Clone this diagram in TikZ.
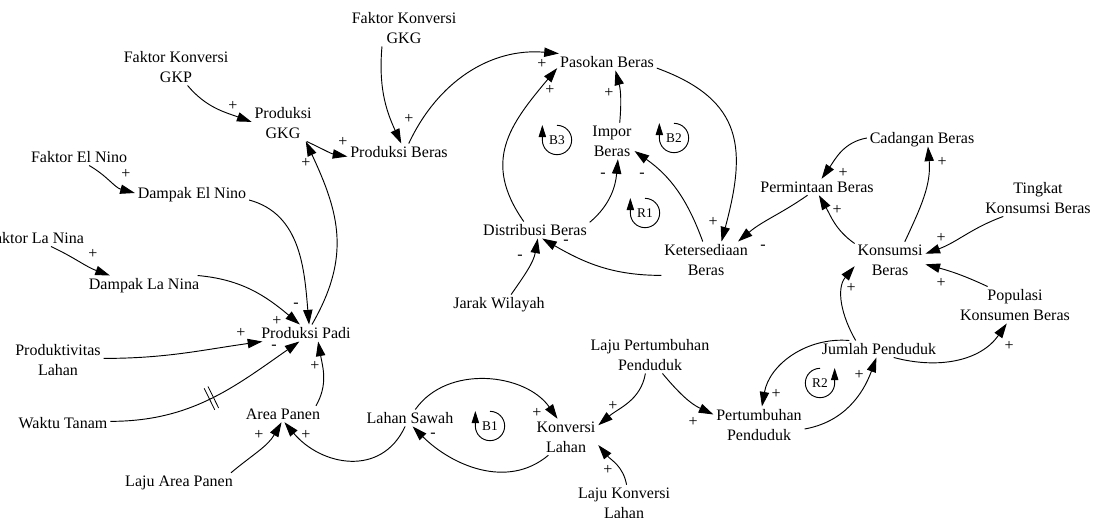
\documentclass[tikz,border=0pt]{standalone}
\usepackage{fontspec}
\setmainfont{Liberation Serif}
\usetikzlibrary{arrows.meta,decorations.markings}

\begin{document}
\begin{tikzpicture}[x=0.75pt,y=-0.75pt,
    var/.style={align=center,inner sep=2pt,text depth=0pt,font=\fontsize{12}{15}\selectfont},
    pol/.style={inner sep=0pt,font=\fontsize{12}{15}\selectfont},
    link/.style={line width=0.7pt,-{Triangle[length=11pt,width=7pt]}},
    loopsym/.style={line width=0.7pt,-{Triangle[length=9pt,width=5.5pt]}},
    looplbl/.style={inner sep=0pt,font=\fontsize{10}{12}\selectfont},
    delay/.style={postaction={decorate,decoration={markings,
        mark=at position #1 with {\draw[-,line width=0.6pt] (-1.6pt,-9pt) -- (-1.6pt,9pt) (1.6pt,-9pt) -- (1.6pt,9pt);}}}}]

    \useasboundingbox (0,0) rectangle (1094,517);
    \clip (0,0) rectangle (1094,517);

        \node[var] (fkgkg) at (404,28) {Faktor Konversi\\GKG};
        \node[var] (fkgkp) at (176,67) {Faktor Konversi\\GKP};
        \node[var] (pgkg) at (283,123) {Produksi\\GKG};
        \node[var] (pberas) at (399,152) {Produksi Beras};
        \node[var] (pasokan) at (607,62) {Pasokan Beras};
        \node[var] (impor) at (612,141) {Impor\\Beras};
        \node[var] (distribusi) at (535,230) {Distribusi Beras};
        \node[var] (ketersediaan) at (706,260) {Ketersediaan\\Beras};
        \node[var] (jarak) at (499,303) {Jarak Wilayah};
        \node[var] (cadangan) at (922,138) {Cadangan Beras};
        \node[var] (permintaan) at (817,187) {Permintaan Beras};
        \node[var] (tingkat) at (1038,198) {Tingkat\\Konsumsi Beras};
        \node[var] (konsumsi) at (890,260) {Konsumsi\\Beras};
        \node[var] (populasi) at (1015,305) {Populasi\\Konsumen Beras};
        \node[var] (jumlah) at (879,349) {Jumlah Penduduk};
        \node[var] (pertumbuhan) at (759,425) {Pertumbuhan\\Penduduk};
        \node[var] (lajupert) at (650,355) {Laju Pertumbuhan\\Penduduk};
        \node[var] (konversi) at (566,437) {Konversi\\Lahan};
        \node[var] (lajukonv) at (624,503) {Laju Konversi\\Lahan};
        \node[var] (sawah) at (410,418) {Lahan Sawah};
        \node[var] (area) at (283,414) {Area Panen};
        \node[var] (lajuarea) at (179,481) {Laju Area Panen};
        \node[var] (waktu) at (63,423) {Waktu Tanam};
        \node[var] (produktivitas) at (58,360) {Produktivitas\\Lahan};
        \node[var] (ppadi) at (306,333) {Produksi Padi};
        \node[var] (dlanina) at (144,284) {Dampak La Nina};
        \node[var] (flanina) at (35,238) {Faktor La Nina};
        \node[var] (felnino) at (79,157) {Faktor El Nino};
        \node[var] (delnino) at (192,193) {Dampak El Nino};

        \draw[link] (fkgkp.-58) to[out=-50,in=160] (pgkg.178);
        \draw[link] (pgkg.-38) to[out=-25,in=170] (pberas.185);
        \draw[link] (ppadi.55) to[out=60,in=-65,looseness=1.1] (pgkg.-39);
        \draw[link] (fkgkg.-140) to[out=-95,in=115] (pberas.75);
        \draw[link] (pberas.41) to[out=65,in=175] (pasokan.170);
        \draw[link] (distribusi.143) to[out=125,in=-130,looseness=1.2] (pasokan.-173);
        \draw[link] (impor.67) to[out=85,in=-75] (pasokan.-45);
        \draw[link] (distribusi.8) to[out=40,in=-95] (impor.-72);
        \draw[link] (ketersediaan.100) to[out=110,in=-35] (impor.-24);
        \draw[link] (pasokan.-7) to[out=-20,in=75,looseness=1.3] (ketersediaan.50);
        \draw[link] (ketersediaan.199) to[out=180,in=-30] (distribusi.-50);
        \draw[link] (jarak.35) to[out=55,in=-100] (distribusi.-72);
        \draw[link] (permintaan.221) to[out=215,in=40] (ketersediaan.30);
        \draw[link] (cadangan.180) to[out=190,in=55] (permintaan.61);
        \draw[link] (konsumsi.155) to[out=145,in=-60] (permintaan.-77);
        \draw[link] (konsumsi.51) to[out=65,in=-85] (cadangan.-55);
        \draw[link] (tingkat.208) to[out=200,in=20] (konsumsi.10);
        \draw[link] (populasi.146) to[out=155,in=-15] (konsumsi.-7);
        \draw[link] (jumlah.160) to[out=120,in=-130] (konsumsi.190);
        \draw[link] (jumlah.-30) to[out=-15,in=-125] (populasi.-114);
        \draw[link] (jumlah.164) to[out=175,in=80] (pertumbuhan.81);
        \draw[link] (pertumbuhan.-5) to[out=10,in=-110] (jumlah.-107);
        \draw[link] (lajupert.-56) to[out=-50,in=155] (pertumbuhan.167);
        \draw[link] (lajupert.-104) to[out=-100,in=40] (konversi.20);
        \draw[link] (lajukonv.82) to[out=100,in=-50] (konversi.-14);
        \draw[link] (sawah.58) to[out=55,in=125] (konversi.115);
        \draw[link] (konversi.-134) to[out=-140,in=-45] (sawah.-73);
        \draw[link] (sawah.-120) to[out=-115,in=-50,looseness=1.2] (area.-80);
        \draw[link] (lajuarea.9) to[out=40,in=-120] (area.-100);
        \draw[link] (area.14) to[out=60,in=-80] (ppadi.-35);
        \draw[link,delay=0.5] (waktu.2) to[out=0,in=-145] (ppadi.-128);
        \draw[link] (produktivitas.2) to[out=0,in=188] (ppadi.-169);
        \draw[link] (dlanina.9) to[out=-5,in=140] (ppadi.126);
        \draw[link] (delnino.-7) to[out=-15,in=95] (ppadi.70);
        \draw[link] (felnino.-40) to[out=-30,in=165] (delnino.180);
        \draw[link] (flanina.-28) to[out=-25,in=160] (dlanina.166);

        \node[pol] (p1) at (233,106) {+};
        \node[pol] (p2) at (343,142) {+};
        \node[pol] (p3) at (306,163) {+};
        \node[pol] (p4) at (409,119) {+};
        \node[pol] (p5) at (542,64) {+};
        \node[pol] (p6) at (550,90) {+};
        \node[pol] (p7) at (609,93) {+};
        \node[pol] (p8) at (603,175) {-};
        \node[pol] (p9) at (642,175) {-};
        \node[pol] (p10) at (713,222) {+};
        \node[pol] (p11) at (566,242) {-};
        \node[pol] (p12) at (520,257) {-};
        \node[pol] (p13) at (763,247) {-};
        \node[pol] (p14) at (843,173) {+};
        \node[pol] (p15) at (837,210) {+};
        \node[pol] (p16) at (942,162) {+};
        \node[pol] (p17) at (941,238) {+};
        \node[pol] (p18) at (941,283) {+};
        \node[pol] (p19) at (851,288) {+};
        \node[pol] (p20) at (1009,346) {+};
        \node[pol] (p21) at (776,394) {+};
        \node[pol] (p22) at (859,375) {+};
        \node[pol] (p23) at (693,422) {+};
        \node[pol] (p24) at (613,406) {+};
        \node[pol] (p25) at (608,470) {+};
        \node[pol] (p26) at (537,413) {+};
        \node[pol] (p27) at (433,435) {-};
        \node[pol] (p28) at (306,435) {+};
        \node[pol] (p29) at (259,435) {+};
        \node[pol] (p30) at (315,366) {+};
        \node[pol] (p31) at (274,347) {-};
        \node[pol] (p32) at (241,333) {+};
        \node[pol] (p33) at (296,305) {-};
        \node[pol] (p34) at (277,321) {+};
        \node[pol] (p35) at (126,174) {+};
        \node[pol] (p36) at (93,254) {+};

        \node[looplbl] (lb3) at (557,140) {B3};
        \node[looplbl] (lb2) at (674,138) {B2};
        \node[looplbl] (lr1) at (645,213) {R1};
        \node[looplbl] (lb1) at (490,426) {B1};
        \node[looplbl] (lr2) at (820,383) {R2};
        \draw[loopsym] ([shift={(90:11pt)}]lb3.center) arc[start angle=90,end angle=-180,radius=11pt] -- ++(0,-15);
        \draw[loopsym] ([shift={(90:11pt)}]lb2.center) arc[start angle=90,end angle=-180,radius=11pt] -- ++(0,-15);
        \draw[loopsym] ([shift={(90:11pt)}]lr1.center) arc[start angle=90,end angle=-180,radius=11pt] -- ++(0,-15);
        \draw[loopsym] ([shift={(90:11pt)}]lb1.center) arc[start angle=90,end angle=-180,radius=11pt] -- ++(0,-15);
        \draw[loopsym] ([shift={(90:11pt)}]lr2.center) arc[start angle=90,end angle=360,radius=11pt] -- ++(0,-15);

    \end{tikzpicture}
\end{document}
